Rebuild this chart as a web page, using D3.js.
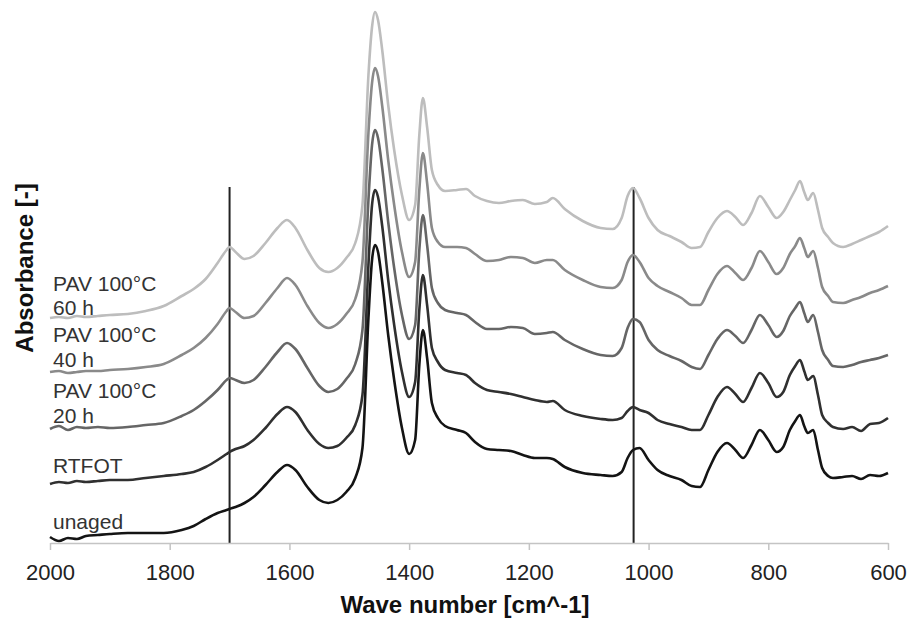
<!DOCTYPE html>
<html>
<head>
<meta charset="utf-8">
<script src="https://cdn.jsdelivr.net/npm/d3@7"></script>
<style>
  body { margin: 0; background: #fff; }
  svg { display: block; }
  text { font-family: "Liberation Sans", Arial, Helvetica, sans-serif; }
</style>
</head>
<body>
<svg id="chart" width="908" height="619"></svg>
<script>
// ---------- DATA (absorbance, arbitrary offset units x1000) ----------
const wavenumbers = [2000,1985,1970,1955,1940,1920,1900,1870,1840,1810,1780,1760,1740,1720,1705,1700,1690,1675,1660,1640,1620,1604,1590,1570,1550,1535,1520,1505,1490,1478,1468,1462,1457,1452,1445,1435,1425,1412,1400,1390,1383,1377,1370,1362,1352,1340,1320,1305,1290,1270,1250,1230,1210,1190,1170,1160,1140,1110,1080,1060,1045,1035,1026,1015,1000,985,965,945,928,914,900,885,869,855,842,828,814,800,786,775,764,755,747,740,734,725,717,710,700,692,675,660,645,630,615,600];

const pav60 = [225,226,225,227,226,227,228,229,232,237,247,254,264,280,293,296,291,284,287,300,315,323,315,293,275,271,275,285,300,338,468,516,531,523,493,438,393,348,323,338,408,445,416,373,358,352,353,354,347,342,340,342,343,339,341,345,334,322,315,314,325,347,355,345,325,313,307,301,295,296,311,325,332,326,318,330,347,336,325,331,343,353,362,351,343,350,333,315,306,300,296,299,303,307,311,317];

const pav40 = [171,172,170,171,172,172,173,174,176,179,188,195,205,219,232,235,231,225,227,240,255,265,258,237,220,215,219,229,244,281,410,460,475,467,437,383,338,291,266,281,353,390,360,315,301,296,296,295,289,282,283,286,285,280,283,283,273,263,256,255,263,281,288,281,265,257,251,245,238,238,253,269,277,270,263,275,292,281,269,275,289,297,305,295,286,292,275,256,247,241,240,243,246,250,253,257];

const pav20 = [114,117,113,116,115,116,115,116,118,120,127,133,142,153,163,165,163,160,163,176,191,200,194,175,157,151,154,164,179,213,343,398,413,405,375,321,275,228,204,218,293,328,298,255,240,233,230,228,221,214,214,216,215,209,210,211,203,194,188,187,195,215,224,221,203,193,187,182,176,174,188,204,213,207,200,213,228,218,206,212,227,235,241,230,221,228,211,193,183,177,176,178,181,183,185,188];

const rtfot = [59,61,60,62,61,62,63,63,65,67,69,71,76,83,89,91,94,97,103,115,129,136,131,113,99,95,97,105,118,148,278,338,353,346,317,263,218,171,146,161,233,268,238,195,181,173,170,168,160,153,151,149,146,143,141,142,133,127,124,123,125,132,136,133,130,123,119,116,113,113,128,146,156,149,141,155,170,160,146,151,168,177,183,172,163,167,148,128,120,116,114,116,112,119,120,125];

const unaged = [6,2,5,4,7,8,9,10,10,10,13,17,24,30,33,34,36,40,46,58,71,78,73,56,43,40,43,51,65,95,225,283,298,291,261,208,163,115,89,103,178,213,185,140,125,117,113,110,101,94,93,92,88,85,85,84,76,70,68,67,71,85,93,95,83,73,67,63,57,56,73,91,100,93,85,98,113,103,91,96,113,122,128,117,110,113,93,75,67,65,66,67,64,68,67,70];

const seriesLabels = [["PAV 100°C", "60 h"], ["PAV 100°C", "40 h"], ["PAV 100°C", "20 h"], ["RTFOT"], ["unaged"]];
const seriesValues = [pav60, pav40, pav20, rtfot, unaged];
const seriesColors = ["#bdbdbd", "#8a8a8a", "#666666", "#303030", "#141414"];

const markerWavenumbers = [1700, 1025];
const xTickValues = [2000, 1800, 1600, 1400, 1200, 1000, 800, 600];
const xTitle = "Wave number [cm^-1]";
const yTitle = "Absorbance [-]";

// ---------- LAYOUT ----------
const W = 908, H = 619;
const margin = { left: 50, right: 20, top: 0, bottom: 76 };
const svg = d3.select("#chart");

const x = d3.scaleLinear().domain([2000, 600]).range([50, 888]);
const y = d3.scaleLinear().domain([0, 550]).range([543, -7]);

// marker vertical lines
const markerTop = 356;
svg.append("g").selectAll("line").data(markerWavenumbers).join("line")
  .attr("x1", d => x(d)).attr("x2", d => x(d))
  .attr("y1", y(0)).attr("y2", y(markerTop))
  .attr("stroke", "#222").attr("stroke-width", 2);

// x axis
const xAxis = d3.axisBottom(x)
  .tickValues(xTickValues)
  .tickSize(7)
  .tickSizeOuter(0)
  .tickPadding(14)
  .tickFormat(d3.format("d"));
const gx = svg.append("g").attr("transform", `translate(0,${y(0)})`).call(xAxis);
gx.select(".domain").attr("stroke", "#c4c4c4").attr("stroke-width", 1.5);
gx.selectAll(".tick line").attr("stroke", "#c4c4c4").attr("stroke-width", 1.5);
gx.selectAll(".tick text").attr("fill", "#222").style("font-size", "22px");

// spectra
const line = d3.line()
  .x((d, i) => x(wavenumbers[i]))
  .y(d => y(d))
  .curve(d3.curveMonotoneX);

svg.append("g").selectAll("path").data(seriesValues).join("path")
  .attr("d", d => line(d))
  .attr("fill", "none")
  .attr("stroke", (d, i) => seriesColors[i])
  .attr("stroke-width", 2.6)
  .attr("stroke-linejoin", "round");

// series labels (baseline positions expressed in value units)
const labelBaselines = [[252, 228], [201, 176], [145, 120], [70], [14]];
const gl = svg.append("g");
seriesLabels.forEach((lines, i) => {
  lines.forEach((t, j) => {
    gl.append("text")
      .attr("x", 53)
      .attr("y", y(labelBaselines[i][j]))
      .attr("fill", "#333")
      .style("font-size", "21px")
      .text(t);
  });
});

// axis titles
svg.append("text")
  .attr("x", 465).attr("y", 613)
  .attr("text-anchor", "middle")
  .attr("fill", "#111")
  .style("font-size", "24px").style("font-weight", "bold")
  .text(xTitle);

svg.append("text")
  .attr("transform", "translate(33,268) rotate(-90)")
  .attr("text-anchor", "middle")
  .attr("fill", "#111")
  .style("font-size", "24px").style("font-weight", "bold")
  .text(yTitle);
</script>
</body>
</html>
